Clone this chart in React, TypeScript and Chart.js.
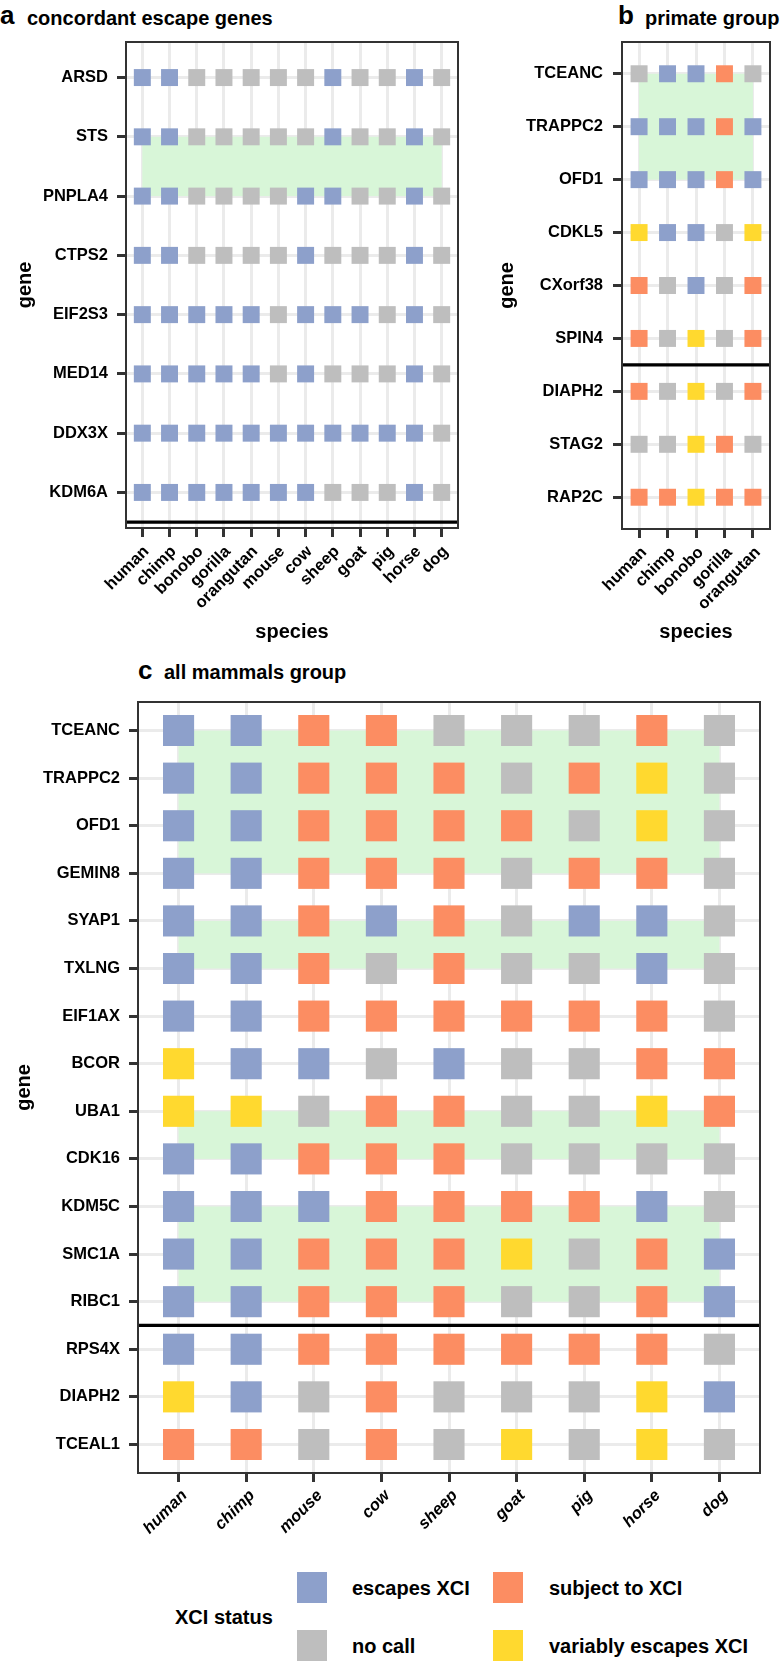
import React, { useEffect, useRef } from "react";
import { Chart, registerables } from "chart.js";

Chart.register(...registerables);

const FONT = "'Liberation Sans', Arial, Helvetica, sans-serif";
Chart.defaults.font.family = FONT;

// status codes: E = escapes XCI, S = subject to XCI, N = no call, V = variably escapes XCI
const STATUS_CODES = ["E", "S", "N", "V"];
const STATUS_LABELS = ["escapes XCI", "subject to XCI", "no call", "variably escapes XCI"];
const STATUS_COLORS = ["#8DA0CB", "#FC8D62", "#BEBEBE", "#FFD92F"];
const BAND_COLOR = "#D8F6D8";

// ---------- panel a ----------
const speciesA = ["human", "chimp", "bonobo", "gorilla", "orangutan", "mouse", "cow", "sheep", "goat", "pig", "horse", "dog"];
const genesA = ["ARSD", "STS", "PNPLA4", "CTPS2", "EIF2S3", "MED14", "DDX3X", "KDM6A"];
const statusA = [
  ["E", "E", "N", "N", "N", "N", "N", "E", "N", "N", "E", "N"],
  ["E", "E", "N", "N", "N", "N", "N", "E", "N", "N", "E", "N"],
  ["E", "E", "N", "N", "N", "N", "E", "E", "N", "N", "E", "N"],
  ["E", "E", "N", "N", "N", "N", "E", "N", "N", "N", "E", "N"],
  ["E", "E", "E", "E", "E", "N", "E", "E", "E", "N", "E", "N"],
  ["E", "E", "E", "E", "E", "N", "E", "N", "N", "N", "E", "N"],
  ["E", "E", "E", "E", "E", "E", "E", "E", "E", "E", "E", "N"],
  ["E", "E", "E", "E", "E", "E", "E", "N", "N", "N", "E", "N"],
];
const bandsA = [["STS", "PNPLA4"]];
const dividerA = 0.5;

// ---------- panel b ----------
const speciesB = ["human", "chimp", "bonobo", "gorilla", "orangutan"];
const genesB = ["TCEANC", "TRAPPC2", "OFD1", "CDKL5", "CXorf38", "SPIN4", "DIAPH2", "STAG2", "RAP2C"];
const statusB = [
  ["N", "E", "E", "S", "N"],
  ["E", "E", "E", "S", "E"],
  ["E", "E", "E", "S", "E"],
  ["V", "E", "E", "N", "V"],
  ["S", "N", "E", "N", "S"],
  ["S", "N", "V", "N", "S"],
  ["S", "N", "V", "N", "S"],
  ["N", "N", "V", "S", "N"],
  ["S", "S", "V", "S", "S"],
];
const bandsB = [["TCEANC", "OFD1"]];
const dividerB = 3.5;

// ---------- panel c ----------
const speciesC = ["human", "chimp", "mouse", "cow", "sheep", "goat", "pig", "horse", "dog"];
const genesC = ["TCEANC", "TRAPPC2", "OFD1", "GEMIN8", "SYAP1", "TXLNG", "EIF1AX", "BCOR", "UBA1", "CDK16", "KDM5C", "SMC1A", "RIBC1", "RPS4X", "DIAPH2", "TCEAL1"];
const statusC = [
  ["E", "E", "S", "S", "N", "N", "N", "S", "N"],
  ["E", "E", "S", "S", "S", "N", "S", "V", "N"],
  ["E", "E", "S", "S", "S", "S", "N", "V", "N"],
  ["E", "E", "S", "S", "S", "N", "S", "S", "N"],
  ["E", "E", "S", "E", "S", "N", "E", "E", "N"],
  ["E", "E", "S", "N", "S", "N", "N", "E", "N"],
  ["E", "E", "S", "S", "S", "S", "S", "S", "N"],
  ["V", "E", "E", "N", "E", "N", "N", "S", "S"],
  ["V", "V", "N", "S", "S", "N", "N", "V", "S"],
  ["E", "E", "S", "S", "S", "N", "N", "N", "N"],
  ["E", "E", "E", "S", "S", "S", "S", "E", "N"],
  ["E", "E", "S", "S", "S", "V", "N", "S", "E"],
  ["E", "E", "S", "S", "S", "N", "N", "S", "E"],
  ["E", "E", "S", "S", "S", "S", "S", "S", "N"],
  ["V", "E", "N", "S", "N", "N", "N", "V", "E"],
  ["S", "S", "N", "S", "N", "V", "N", "V", "N"],
];
const bandsC = [["TCEANC", "GEMIN8"], ["SYAP1", "TXLNG"], ["UBA1", "CDK16"], ["KDM5C", "RIBC1"]];
const dividerC = 3.5;

const colorOf = (code: string) => STATUS_COLORS[STATUS_CODES.indexOf(code)];

type Spec = {
  species: string[];
  genes: string[];
  status: string[][];
  bands: string[][];
  divider: number;
  box: { left: number; top: number; width: number; height: number };
  padding: { top: number; right: number; bottom: number; left: number };
  yWidth: number;
  xHeight: number;
  radius: number;
  yTickPad: number;
  xTickPad: number;
  xLabelShift: number;
  geneTitlePad: number;
  speciesTitle: boolean;
  italicX: boolean;
};

function Panel({ spec }: { spec: Spec }) {
  const ref = useRef<HTMLCanvasElement>(null);
  useEffect(() => {
    const nG = spec.genes.length;
    const nS = spec.species.length;
    const points: { x: number; y: number }[] = [];
    const colors: string[] = [];
    spec.genes.forEach((g, gi) => {
      spec.species.forEach((s, si) => {
        points.push({ x: si + 1, y: nG - gi });
        colors.push(colorOf(spec.status[gi][si]));
      });
    });
    const yOf = (g: string) => nG - spec.genes.indexOf(g);

    const panelPlugin = {
      id: "panelDecor",
      beforeDraw(chart: any) {
        const sx = chart.scales.x;
        if (!sx || !sx.getLabelItems) return;
        const items = sx.getLabelItems(chart.chartArea);
        items.forEach((it: any) => {
          if (!it.__shifted && it.options && Array.isArray(it.options.translation)) {
            it.options.translation[0] += spec.xLabelShift;
            it.__shifted = true;
          }
        });
      },
      beforeDatasetsDraw(chart: any) {
        const { ctx } = chart;
        const x = chart.scales.x;
        const y = chart.scales.y;
        ctx.save();
        ctx.fillStyle = BAND_COLOR;
        spec.bands.forEach(([g1, g2]) => {
          const x1 = x.getPixelForValue(1);
          const x2 = x.getPixelForValue(nS);
          const y1 = y.getPixelForValue(yOf(g1));
          const y2 = y.getPixelForValue(yOf(g2));
          ctx.fillRect(x1, y1, x2 - x1, y2 - y1);
        });
        ctx.restore();
      },
      afterDatasetsDraw(chart: any) {
        const { ctx, chartArea } = chart;
        const y = chart.scales.y;
        const yy = y.getPixelForValue(spec.divider);
        ctx.save();
        ctx.strokeStyle = "#000";
        ctx.lineWidth = 3.2;
        ctx.beginPath();
        ctx.moveTo(chartArea.left, yy);
        ctx.lineTo(chartArea.right, yy);
        ctx.stroke();
        ctx.restore();
      },
      afterDraw(chart: any) {
        const { ctx, chartArea } = chart;
        ctx.save();
        ctx.strokeStyle = "#333333";
        ctx.lineWidth = 2;
        ctx.strokeRect(chartArea.left, chartArea.top, chartArea.right - chartArea.left, chartArea.bottom - chartArea.top);
        ctx.restore();
      },
    };

    const tickFont = { family: FONT, size: 16.5, weight: "bold" as const };
    const titleFont = { family: FONT, size: 20, weight: "bold" as const };

    const chart = new Chart(ref.current as HTMLCanvasElement, {
      type: "scatter",
      data: {
        datasets: [
          {
            data: points,
            pointStyle: "rect",
            pointRadius: spec.radius,
            pointHoverRadius: spec.radius,
            pointBackgroundColor: colors,
            backgroundColor: colors,
            pointBorderWidth: 0,
            borderWidth: 0,
          },
        ],
      },
      options: {
        animation: false,
        responsive: false,
        events: [],
        layout: { padding: spec.padding },
        plugins: { legend: { display: false }, tooltip: { enabled: false } },
        scales: {
          x: {
            type: "linear",
            min: 0.4,
            max: nS + 0.6,
            afterBuildTicks: (ax: any) => {
              ax.ticks = spec.species.map((_, i) => ({ value: i + 1 }));
            },
            afterFit: (ax: any) => {
              ax.height = spec.xHeight;
              ax.paddingLeft = 0;
              ax.paddingRight = 0;
            },
            ticks: {
              autoSkip: false,
              maxRotation: 45,
              minRotation: 45,
              padding: spec.xTickPad,
              color: "#000",
              font: spec.italicX ? { ...tickFont, style: "italic" as const } : tickFont,
              callback: (v: any) => spec.species[Math.round(v) - 1] ?? "",
            },
            grid: { color: "#EBEBEB", lineWidth: 3, tickColor: "#333333", tickWidth: 3, tickLength: 9, drawTicks: true },
            border: { display: false },
            title: { display: spec.speciesTitle, text: "species", color: "#000", font: titleFont, padding: { top: 0, bottom: 6 } },
          },
          y: {
            type: "linear",
            min: 0.4,
            max: nG + 0.6,
            afterBuildTicks: (ax: any) => {
              ax.ticks = spec.genes.map((_, i) => ({ value: i + 1 }));
            },
            afterFit: (ax: any) => {
              ax.width = spec.yWidth;
              ax.paddingTop = 0;
              ax.paddingBottom = 0;
            },
            ticks: {
              autoSkip: false,
              padding: spec.yTickPad,
              color: "#000",
              font: tickFont,
              callback: (v: any) => spec.genes[nG - Math.round(v)] ?? "",
            },
            grid: { color: "#EBEBEB", lineWidth: 3, tickColor: "#333333", tickWidth: 3, tickLength: 9, drawTicks: true },
            border: { display: false },
            title: { display: true, text: "gene", color: "#000", font: titleFont, padding: { top: spec.geneTitlePad, bottom: 0 } },
          },
        },
      },
      plugins: [panelPlugin],
    } as any);
    return () => chart.destroy();
  }, [spec]);

  return (
    <canvas
      ref={ref}
      width={spec.box.width}
      height={spec.box.height}
      style={{ position: "absolute", left: spec.box.left, top: spec.box.top, width: spec.box.width, height: spec.box.height }}
    />
  );
}

const specA: Spec = {
  species: speciesA, genes: genesA, status: statusA, bands: bandsA, divider: dividerA,
  box: { left: 0, top: 30, width: 470, height: 620 },
  padding: { top: 10, right: 10, bottom: 0, left: 0 },
  yWidth: 126, xHeight: 122, radius: 12, yTickPad: 9, xTickPad: 5, xLabelShift: 4, geneTitlePad: 13,
  speciesTitle: true, italicX: false,
};
const specB: Spec = {
  species: speciesB, genes: genesB, status: statusB, bands: bandsB, divider: dividerB,
  box: { left: 470, top: 30, width: 312, height: 620 },
  padding: { top: 10, right: 1, bottom: 0, left: 0 },
  yWidth: 152, xHeight: 121, radius: 12, yTickPad: 10, xTickPad: 5, xLabelShift: 5, geneTitlePad: 25,
  speciesTitle: true, italicX: false,
};
const specC: Spec = {
  species: speciesC, genes: genesC, status: statusC, bands: bandsC, divider: dividerC,
  box: { left: 0, top: 650, width: 782, height: 910 },
  padding: { top: 52, right: 1, bottom: 0, left: 0 },
  yWidth: 138, xHeight: 87, radius: 22, yTickPad: 9, xTickPad: 4, xLabelShift: 6, geneTitlePad: 12,
  speciesTitle: false, italicX: true,
};

const textStyle = (left: number, top: number, size: number): React.CSSProperties => ({
  position: "absolute",
  left,
  top,
  fontFamily: FONT,
  fontWeight: "bold",
  fontSize: size,
  lineHeight: `${size}px`,
  whiteSpace: "nowrap",
  color: "#000",
  margin: 0,
});

const legendKeys = [
  { code: "E", keyLeft: 297, keyTop: 1572, labelLeft: 352, labelTop: 1578 },
  { code: "S", keyLeft: 493, keyTop: 1572, labelLeft: 549, labelTop: 1578 },
  { code: "N", keyLeft: 297, keyTop: 1630, labelLeft: 352, labelTop: 1636 },
  { code: "V", keyLeft: 493, keyTop: 1630, labelLeft: 549, labelTop: 1636 },
];

export default function App() {
  return (
    <div style={{ position: "absolute", left: 0, top: 0, width: 782, height: 1661, overflow: "hidden", background: "#fff" }}>
      <div style={textStyle(0, 2, 26)}>a</div>
      <div style={textStyle(27, 8, 20)}>concordant escape genes</div>
      <div style={textStyle(618, 2, 26)}>b</div>
      <div style={textStyle(645, 8, 20)}>primate group</div>
      <div style={textStyle(138, 657, 26)}>c</div>
      <div style={textStyle(164, 662, 20)}>all mammals group</div>
      <Panel spec={specA} />
      <Panel spec={specB} />
      <Panel spec={specC} />
      <div style={textStyle(175, 1607, 20)}>XCI status</div>
      {legendKeys.map((k) => {
        const idx = STATUS_CODES.indexOf(k.code);
        return (
          <React.Fragment key={k.code}>
            <div style={{ position: "absolute", left: k.keyLeft, top: k.keyTop, width: 30, height: 31, background: STATUS_COLORS[idx] }} />
            <div style={textStyle(k.labelLeft, k.labelTop, 20)}>{STATUS_LABELS[idx]}</div>
          </React.Fragment>
        );
      })}
    </div>
  );
}
